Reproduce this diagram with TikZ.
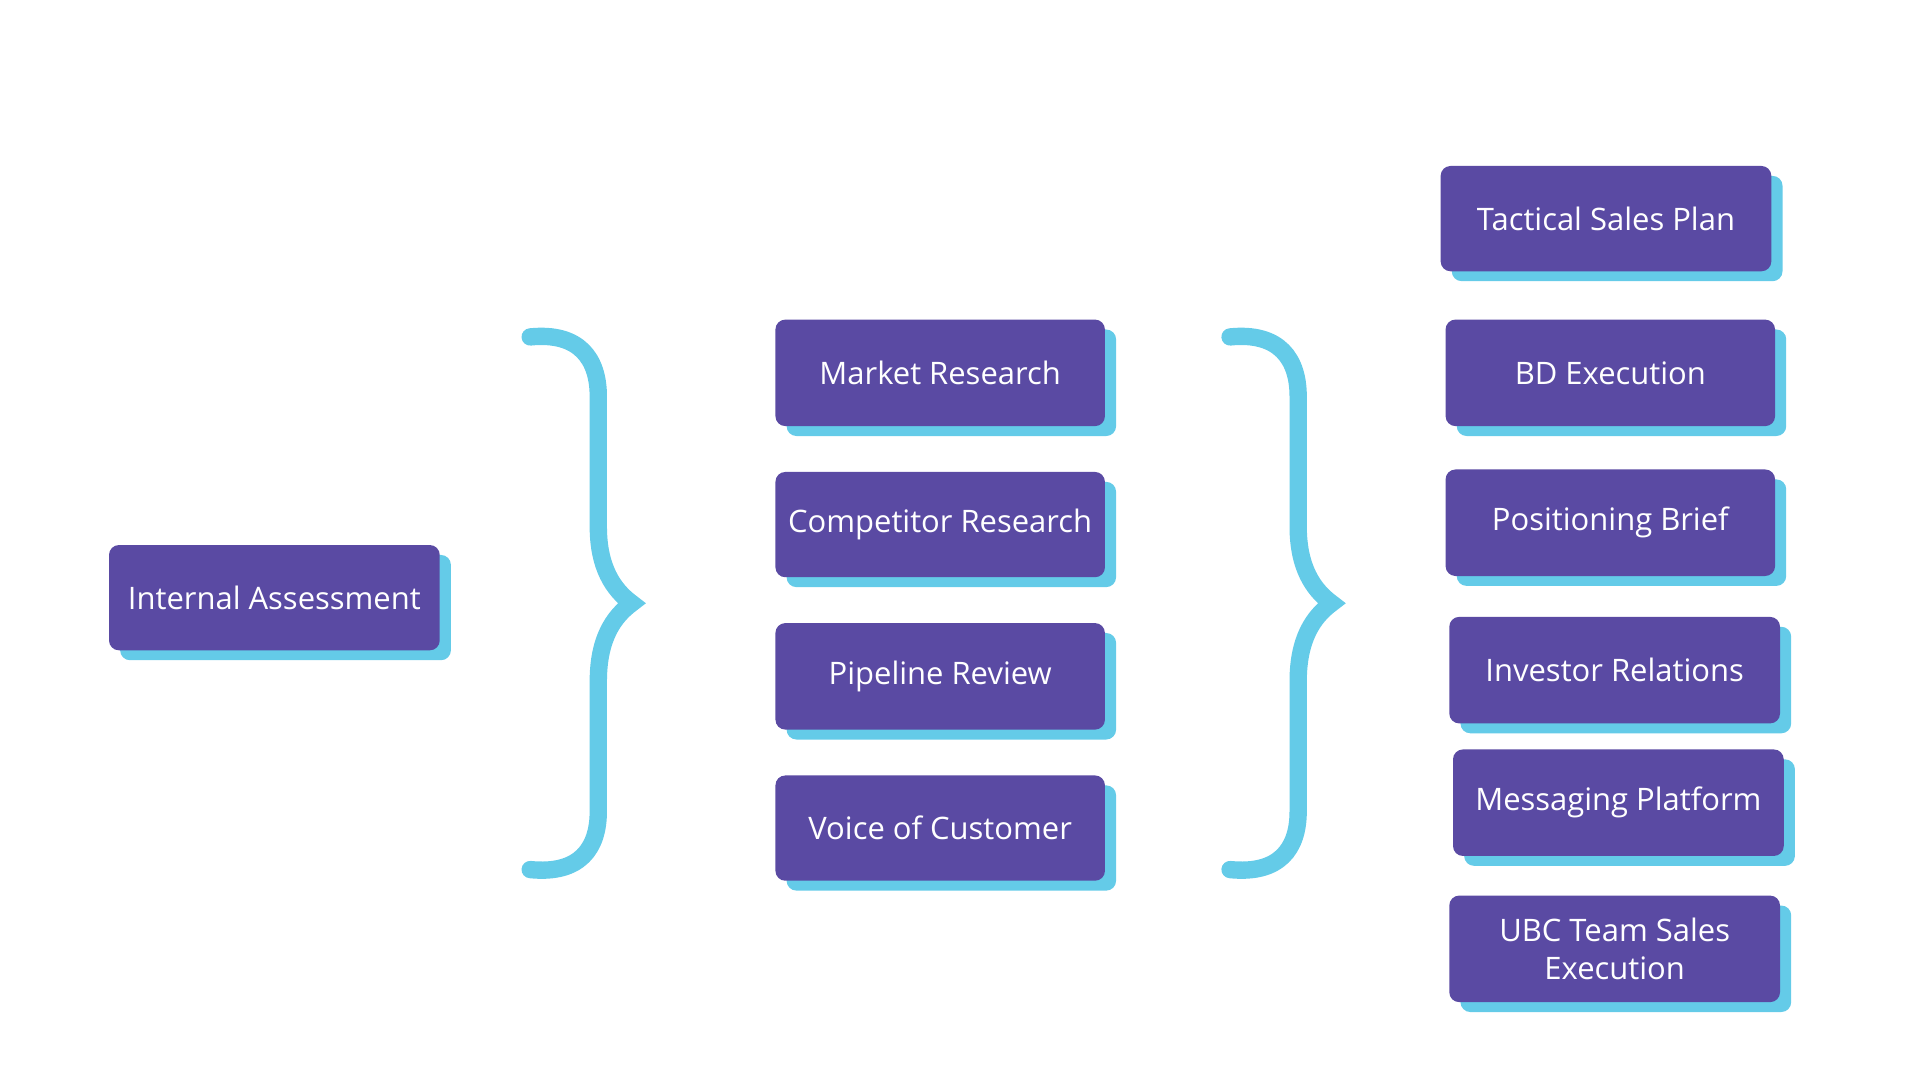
\documentclass[tikz,border=0pt]{standalone}
\usepackage{fontspec}
\setmainfont{Open Sans}
\definecolor{pur}{HTML}{5A4AA3}
\definecolor{cy}{HTML}{64CBE8}
\tikzset{
 box/.style={fill=pur,rounded corners=8pt,text=white,font=\fontsize{25}{31}\selectfont,align=center,inner sep=0pt},
 shad/.style={fill=cy,rounded corners=8pt},
 brace/.style={draw=cy,line width=14pt,line cap=round}
}
\newcommand{\bx}[6]{%
 \fill[shad] (#2+9,#3+8) rectangle (#4+9,#5+8);
 \node[box,minimum width=#4-#2,minimum height=#5-#3] (#1) at ({(#2+#4)/2},{(#3+#5)/2}) {#6};}
\begin{document}
\begin{tikzpicture}[x=1pt,y=-1pt]
\useasboundingbox (0,0) rectangle (1550,872);
\bx{ia}{88}{440}{355}{525}{Internal Assessment}
\bx{mr}{626}{258}{892}{344}{Market Research}
\bx{cr}{626}{381}{892}{466}{Competitor Research}
\bx{pr}{626}{503}{892}{589}{Pipeline Review}
\bx{vc}{626}{626}{892}{711}{Voice of Customer}
\bx{ts}{1163}{134}{1430}{219}{Tactical Sales Plan}
\bx{bd}{1167}{258}{1433}{344}{BD Execution}
\bx{pb}{1167}{379}{1433}{465}{Positioning Brief}
\bx{ir}{1170}{498}{1437}{584}{Investor Relations}
\bx{mp}{1173}{605}{1440}{691}{Messaging Platform}
\bx{ub}{1170}{723}{1437}{809}{UBC Team Sales\\Execution}
\foreach \dx in {0,565}{
\draw[brace] (428+\dx,272) .. controls (468+\dx,268) and (483+\dx,290) .. (483+\dx,320) -- (483+\dx,425)
 .. controls (483+\dx,458) and (495+\dx,476) .. (510+\dx,487)
 .. controls (495+\dx,498) and (483+\dx,516) .. (483+\dx,550) -- (483+\dx,655)
 .. controls (483+\dx,685) and (468+\dx,706) .. (428+\dx,702);}
\end{tikzpicture}
\end{document}
